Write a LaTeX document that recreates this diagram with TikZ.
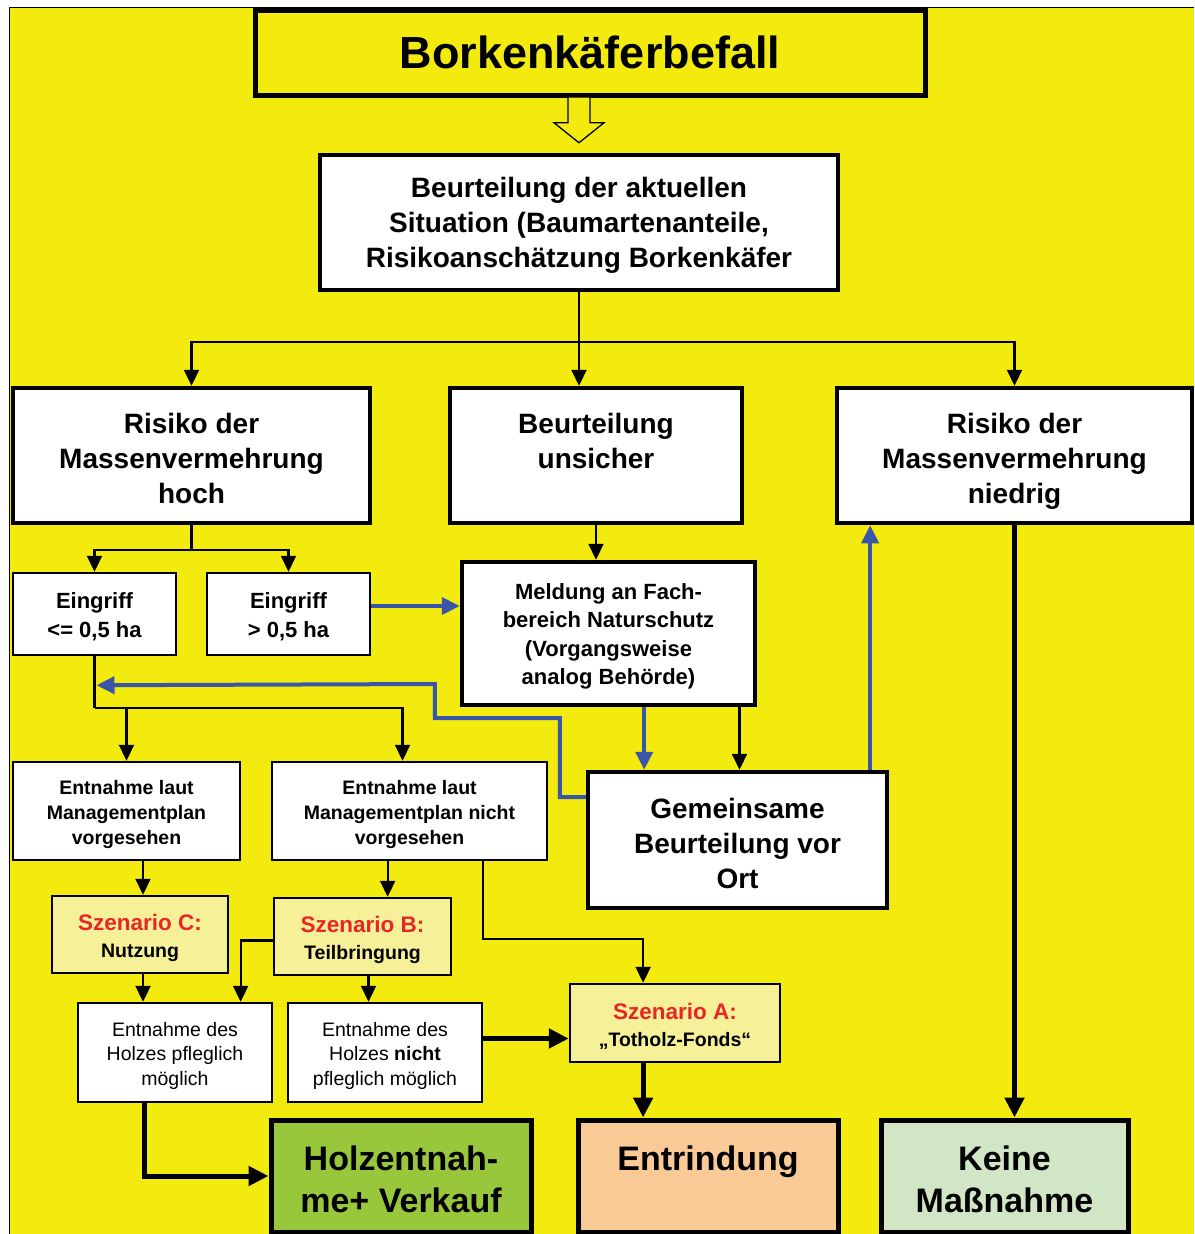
\documentclass[tikz,border=0pt]{standalone}
\usepackage{fontspec}
\setmainfont{Liberation Sans}
\usetikzlibrary{arrows.meta,calc}
\definecolor{bgyel}{RGB}{243,234,14}
\definecolor{szyel}{RGB}{246,241,152}
\definecolor{myred}{RGB}{232,38,38}
\definecolor{myblue}{RGB}{58,86,168}
\definecolor{mygreen}{RGB}{153,199,59}
\definecolor{mypeach}{RGB}{250,202,150}
\definecolor{mymint}{RGB}{208,230,196}
\newcommand\fsz[2]{\fontsize{#1}{#2}\selectfont}
\newcommand\txtdn{\rule{0pt}{\dimexpr0.73em+6pt\relax}}
\begin{document}
\begin{tikzpicture}[x=1pt,y=-1pt,
  box/.style={draw, line width=4.5pt, fill=white, inner sep=0pt, align=center, font=\bfseries\fsz{28}{35}},
  sbox/.style={draw, line width=2.5pt, fill=white, inner sep=0pt, align=center},
  conn/.style={line width=2.2pt},
  arr/.style={conn, -{Triangle[length=16pt,width=15pt]}},
  tarr/.style={line width=5pt, -{Triangle[length=20pt,width=19pt]}},
  barr/.style={line width=4pt, draw=myblue, -{Triangle[length=18pt,width=17pt]}}
]
\useasboundingbox (0,0) rectangle (1194,1234);
\fill[bgyel] (10,8) rectangle (1194,1234);
\draw[line width=1.5pt] (1194,7.5) -- (9.5,7.5) -- (9.5,1234);

% nodes
\node[box, fill=bgyel, line width=5pt, minimum width=670, minimum height=85, font=\bfseries\fsz{45}{54}] (title) at (590,52.5) {Borkenkäferbefall};
\node[box, minimum width=518, minimum height=135] (main) at (579,222.5) {\txtdn Beurteilung der aktuellen\\Situation (Baumartenanteile,\\Risikoanschätzung Borkenkäfer};
\node[box, minimum width=357, minimum height=135] (hoch) at (191.5,455.5) {\txtdn Risiko der\\Massenvermehrung\\hoch};
\node[box, minimum width=292, minimum height=135] (unsicher) at (596,455.5) {\txtdn Beurteilung\\unsicher\\\vphantom{hoch}};
\node[box, minimum width=355, minimum height=135] (niedrig) at (1014.5,455.5) {\txtdn Risiko der\\Massenvermehrung\\\smash{niedrig}};
\node[sbox, minimum width=163, minimum height=82, font=\bfseries\fsz{22}{29}] (e1) at (94.5,614) {\txtdn Eingriff\\<= 0,5 ha};
\node[sbox, minimum width=163, minimum height=82, font=\bfseries\fsz{22}{29}] (e2) at (288.5,614) {\txtdn Eingriff\\> 0,5 ha};
\node[box, minimum width=293, minimum height=143, font=\bfseries\fsz{22}{28.5}] (meldung) at (608.5,633.5) {\txtdn Meldung an Fach-\\bereich Naturschutz\\(Vorgangsweise\\analog Behörde)};
\node[box, minimum width=299, minimum height=136] (gem) at (737.5,840) {\txtdn Gemeinsame\\Beurteilung vor\\Ort};
\node[sbox, minimum width=227, minimum height=98, font=\bfseries\fsz{19.5}{25}] (ent1) at (126.5,811) {\txtdn Entnahme laut\\Managementplan\\vorgesehen};
\node[sbox, minimum width=275, minimum height=98, font=\bfseries\fsz{19.5}{25}] (ent2) at (409.5,811) {\txtdn Entnahme laut\\Managementplan nicht\\vorgesehen};
\node[sbox, fill=szyel, minimum width=176, minimum height=77, font=\bfseries\fsz{19.5}{27}] (szC) at (140,934.5) {{\color{myred}\fsz{22.5}{27}\txtdn Szenario C:}\\Nutzung};
\node[sbox, fill=szyel, minimum width=177, minimum height=77, font=\bfseries\fsz{19.5}{27}] (szB) at (362.5,936.5) {{\color{myred}\fsz{22.5}{27}\txtdn Szenario B:}\\Teilbringung};
\node[sbox, fill=szyel, minimum width=210, minimum height=78, font=\bfseries\fsz{19.5}{27}] (szA) at (675,1023) {{\color{myred}\fsz{22.5}{27}\txtdn Szenario A:}\\„Totholz-Fonds“};
\node[sbox, minimum width=194, minimum height=99, font=\fsz{19.5}{24.5}] (pfleg) at (175,1052.5) {\txtdn Entnahme des\\Holzes pfleglich\\möglich};
\node[sbox, minimum width=194, minimum height=99, font=\fsz{19.5}{24.5}] (npfleg) at (385,1052.5) {\txtdn Entnahme des\\Holzes \textbf{nicht}\\pfleglich möglich};
\node[box, fill=mygreen, line width=5pt, minimum width=260, minimum height=112, font=\bfseries\fsz{34}{42}] (holz) at (401,1176) {\txtdn Holzentnah-\\me+ Verkauf};
\node[box, fill=mypeach, line width=5pt, minimum width=260, minimum height=112, font=\bfseries\fsz{34}{42}] (entr) at (708,1176) {\txtdn Entrindung\\\vphantom{me+ Verkauf}};
\node[box, fill=mymint, line width=5pt, minimum width=247, minimum height=112, font=\bfseries\fsz{34}{42}] (keine) at (1004.5,1176) {\txtdn Keine\\Maßnahme};

% hollow arrow title -> main
\coordinate (ha) at (title.south -| main.north);
\path (main.north) ++(0,-10) coordinate (hb);
\draw[line width=1.3pt, fill=bgyel] ([xshift=-11pt]ha) -- ([xshift=-11pt,yshift=20pt]hb) -- ([xshift=-25pt,yshift=20pt]hb) -- (hb) -- ([xshift=25pt,yshift=20pt]hb) -- ([xshift=11pt,yshift=20pt]hb) -- ([xshift=11pt]ha);

% main -> three
\draw[conn] (main.south) -- ++(0,50) coordinate (bus);
\draw[arr] (bus) -| (hoch.north);
\draw[arr] (bus) -| (niedrig.north);
\draw[arr] (bus) -- (bus |- unsicher.north);

% hoch -> eingriffe
\draw[conn] (hoch.south) -- ++(0,25) coordinate (bus2);
\draw[arr] (bus2) -| (e1.north);
\draw[arr] (bus2) -| (e2.north);

% e2 -> meldung
\draw[barr] ([yshift=8pt]e2.east) -- ([yshift=8pt]e2.east -| meldung.west);
% unsicher -> meldung
\draw[arr] (unsicher.south) -- (unsicher.south |- meldung.north);
% meldung -> gem
\coordinate (mb) at ($(meldung.south west)!0.62!(meldung.south east)$);
\draw[barr] (mb) -- (mb |- gem.north);
\draw[arr] ([xshift=2pt]meldung.south -| gem.north) -- ([xshift=2pt]gem.north);
% gem -> niedrig
\coordinate (gb) at ($(gem.north west)!0.937!(gem.north east)$);
\draw[barr] (gb) -- (gb |- niedrig.south);
% gem -> back loop
\path (e1.south) ++(2,29) coordinate (bluetip);
\draw[barr] ([yshift=43pt]gem.west) -- ++(-26,0) -- ++(0,-79) -- ++(-125,0) -- ++(0,-34) -- (bluetip);

% e1 -> entnahme
\draw[conn] (e1.south) -- ++(0,52) coordinate (b2);
\draw[arr] (b2) -| (ent1.north);
\draw[arr] (b2) -| ([xshift=-7pt]ent2.north);

% ent1 -> szC, ent2 -> szB
\draw[arr] ([xshift=3pt]szC.north |- ent1.south) -- ([xshift=3pt]szC.north);
\coordinate (sbt) at ($(szB.north west)!0.64!(szB.north east)$);
\draw[arr] (sbt |- ent2.south) -- (sbt);
% ent2 -> szA
\coordinate (e2b) at ($(ent2.south west)!0.764!(ent2.south east)$);
\coordinate (sat) at ($(szA.north west)!0.35!(szA.north east)$);
\draw[arr] (e2b) -- ++(0,78) -| (sat);

% szC -> pfleg, szB -> pfleg, szB -> npfleg
\draw[arr] ([xshift=3pt]szC.south) -- ([xshift=3pt]szC.south |- pfleg.north);
\coordinate (pt) at ($(pfleg.north west)!0.834!(pfleg.north east)$);
\draw[arr] ([yshift=-4pt]szB.west) -| (pt);
\draw[arr] ([xshift=6pt]szB.south) -- ([xshift=6pt]szB.south |- npfleg.north);

% npfleg -> szA
\draw[tarr] ([yshift=14pt]npfleg.east) -- ([yshift=14pt]npfleg.east -| szA.west);
% szA -> entr
\coordinate (sab) at ($(szA.south west)!0.35!(szA.south east)$);
\draw[tarr] (sab) -- (sab |- entr.north);
% pfleg -> holz
\coordinate (pb) at ($(pfleg.south west)!0.345!(pfleg.south east)$);
\draw[tarr] (pb) |- (holz.west);
% niedrig -> keine
\draw[tarr] (niedrig.south) -- (niedrig.south |- keine.north);
\end{tikzpicture}
\end{document}
